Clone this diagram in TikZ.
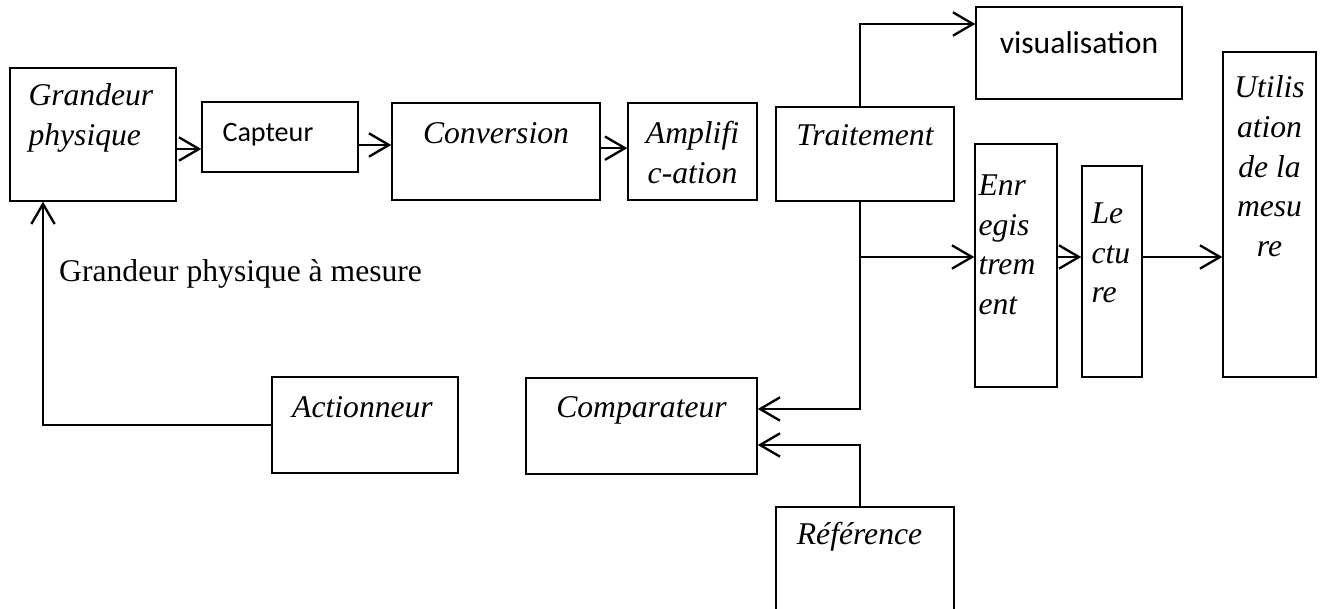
\documentclass[tikz,border=0pt]{standalone}
\usepackage{fontspec}
\setmainfont{Liberation Serif}
\newfontfamily\calibri{Carlito}
\usetikzlibrary{arrows.meta}

\begin{document}
\begin{tikzpicture}[
  blk/.style={draw, line width=1.2pt, inner sep=0pt},
  lbl/.style={inner sep=0pt, font=\fontsize{27}{34}\selectfont\itshape},
  cnx/.style={line width=2pt, -{Straight Barb[length=0.6cm,width=0.7cm]}},
]
\useasboundingbox (0,0) rectangle (39.69,18.24);

% boxes
\node[blk, minimum width=4.98cm, minimum height=3.99cm] (gp) at (2.79,14.205) {};
\node[blk, minimum width=4.68cm, minimum height=2.10cm] (capteur) at (8.40,14.13) {};
\node[blk, minimum width=6.24cm, minimum height=2.91cm] (conversion) at (14.88,13.695) {};
\node[blk, minimum width=3.87cm, minimum height=2.91cm] (ampli) at (20.775,13.695) {};
\node[blk, minimum width=5.34cm, minimum height=2.82cm] (traitement) at (25.95,13.62) {};
\node[blk, minimum width=6.18cm, minimum height=2.76cm] (visu) at (32.37,16.65) {};
\node[blk, minimum width=2.46cm, minimum height=7.29cm] (enr) at (30.48,10.275) {};
\node[blk, minimum width=1.80cm, minimum height=6.33cm] (lecture) at (33.36,10.095) {};
\node[blk, minimum width=2.79cm, minimum height=9.75cm] (util) at (38.085,11.805) {};
\node[blk, minimum width=6.93cm, minimum height=2.88cm] (comparateur) at (19.245,5.46) {};
\node[blk, minimum width=5.58cm, minimum height=2.88cm] (actionneur) at (10.95,5.49) {};
\node[blk, minimum width=5.34cm, minimum height=3.99cm] (reference) at (25.95,1.035) {};

% texts
\node[lbl, anchor=north west, align=left] (gp-t) at ([xshift=0.57cm,yshift=-0.48cm]gp.north west) {Grandeur\\physique};
\node[inner sep=0pt, anchor=north west, font=\calibri\fontsize{24}{30}\selectfont] (capteur-t) at ([xshift=0.63cm,yshift=-0.66cm]capteur.north west) {Capteur};
\node[lbl, anchor=north] (conversion-t) at ([yshift=-0.6cm]conversion.north) {Conversion};
\node[lbl, anchor=north, align=center] (ampli-t) at ([yshift=-0.57cm]ampli.north) {Amplifi\\c-ation};
\node[lbl, anchor=north] (traitement-t) at ([yshift=-0.54cm]traitement.north) {Traitement};
\node[inner sep=0pt, anchor=north, font=\calibri\fontsize{27}{32}\selectfont] (visu-t) at ([yshift=-0.75cm]visu.north) {visualisation};
\node[lbl, anchor=north west, align=left] (enr-t) at ([xshift=0.12cm,yshift=-0.93cm]enr.north west) {Enr\\egis\\trem\\ent};
\node[lbl, anchor=north west, align=left] (lecture-t) at ([xshift=0.3cm,yshift=-1.11cm]lecture.north west) {Le\\ctu\\re};
\node[lbl, anchor=north, align=center] (util-t) at ([yshift=-0.72cm]util.north) {Utilis\\ation\\de la\\mesu\\re};
\node[lbl, anchor=north] (comparateur-t) at ([yshift=-0.57cm]comparateur.north) {Comparateur};
\node[lbl, anchor=north] (actionneur-t) at ([xshift=-0.075cm,yshift=-0.6cm]actionneur.north) {Actionneur};
\node[lbl, anchor=north] (reference-t) at ([xshift=-0.165cm,yshift=-0.48cm]reference.north) {Référence};
\node[inner sep=0pt, anchor=base west, font=\fontsize{27}{32}\selectfont] (mesure) at (1.77,9.78) {Grandeur physique à mesure};

% connectors
\coordinate (tap) at (25.80,10.53);
\draw[cnx] ([yshift=-0.36cm]capteur.west -| gp.east) -- ([yshift=-0.36cm]capteur.west);
\draw[cnx] ([yshift=-0.24cm]capteur.east) -- ([yshift=-0.24cm]capteur.east -| conversion.west);
\draw[cnx] ([yshift=0.1cm]conversion.east) -- ([yshift=0.1cm]ampli.west);
\draw[cnx] ([xshift=-0.15cm]traitement.north) |- ([yshift=0.87cm]visu.west);
\draw[cnx] ([xshift=-0.15cm]traitement.south) |- ([yshift=0.51cm]comparateur.east);
\draw[cnx] (tap) -- (tap -| enr.west);
\draw[cnx] (tap -| enr.east) -- (tap -| lecture.west);
\draw[cnx] (tap -| lecture.east) -- (tap -| util.west);
\draw[cnx] ([xshift=-0.15cm]reference.north) |- ([yshift=-0.57cm]comparateur.east);
\draw[cnx] (actionneur.west) -| ([xshift=-1.5cm]gp.south);
\end{tikzpicture}
\end{document}
